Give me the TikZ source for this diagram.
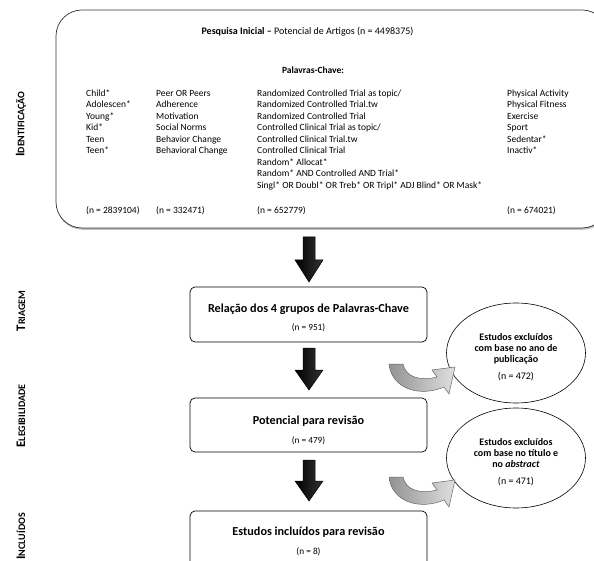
\documentclass[tikz,border=0pt]{standalone}
\usepackage{fontspec}
\setmainfont{Carlito}
\usetikzlibrary{shapes.geometric,shadows}
\begin{document}
\begin{tikzpicture}[x=1pt,y=-1pt,
  lbl/.style={rotate=90, inner sep=0},
  row/.style={inner sep=0, anchor=base west, font=\fontsize{9.5}{11.5}\selectfont},
  smallbox/.style={draw=black, rounded corners=5pt, line width=0.7pt, minimum width=237pt, fill=white},
  boxtitle/.style={inner sep=0, font=\bfseries\fontsize{12.2}{14}\selectfont},
  boxn/.style={inner sep=0, font=\fontsize{9.3}{11}\selectfont},
  bigarrow/.style={draw=black, line width=0.5pt, left color=black, middle color=black!55, right color=black!80},
  curvarrow/.style={draw=black!60, line width=0.5pt, left color=gray!85, right color=gray!25},
  excl/.style={draw=black, ellipse, line width=0.6pt, minimum width=139pt, minimum height=100pt, inner sep=0},
  excltext/.style={inner sep=0, align=center, font=\fontsize{10}{11}\selectfont}]
\useasboundingbox (0,0) rectangle (594,561);
\begin{scope}
\clip (0,0) rectangle (594,561);
% main search box
\node[draw=black!80, fill=white, line width=0.7pt, rounded corners=26pt, minimum width=552pt, minimum height=218pt,
  drop shadow={shadow xshift=0.6pt, shadow yshift=-1.8pt, fill=black!50}] (search) at (332,119) {};
\node[inner sep=0, font=\fontsize{10}{12}\selectfont] (title) at (307.5,32) {\textbf{Pesquisa Inicial –} Potencial de Artigos (n = 4498375)};
\node[inner sep=0, font=\bfseries\fontsize{9.5}{11.5}\selectfont] (kw) at (313,70) {Palavras-Chave:};
\foreach \t [count=\i] in {Child*, Adolescen*, Young*, Kid*, Teen, Teen*}
  \node[row] (ca\i) at (86,{96.5+11.5*(\i-1)}) {\t};
\foreach \t [count=\i] in {Peer OR Peers, Adherence, Motivation, Social Norms, Behavior Change, Behavioral Change}
  \node[row] (cb\i) at (156,{96.5+11.5*(\i-1)}) {\t};
\foreach \t [count=\i] in {Randomized Controlled Trial as topic/, Randomized Controlled Trial.tw, Randomized Controlled Trial,
  Controlled Clinical Trial as topic/, Controlled Clinical Trial.tw, Controlled Clinical Trial, Random* Allocat*,
  Random* AND Controlled AND Trial*, Singl* OR Doubl* OR Treb* OR Tripl* ADJ Blind* OR Mask*}
  \node[row] (cc\i) at (257,{96.5+11.5*(\i-1)}) {\t};
\foreach \t [count=\i] in {Physical Activity, Physical Fitness, Exercise, Sport, Sedentar*, Inactiv*}
  \node[row] (cd\i) at (507,{96.5+11.5*(\i-1)}) {\t};
\node[row] (na) at (86,213.5) {(n = 2839104)};
\node[row] (nb) at (156,213.5) {(n = 332471)};
\node[row] (nc) at (257,213.5) {(n = 652779)};
\node[row] (nd) at (507,213.5) {(n = 674021)};
% stage labels
\node[lbl] (l1) at (21,124) {\bfseries\fontsize{13}{13}\selectfont I\fontsize{10}{10}\selectfont DENTIFICAÇÃO};
\node[lbl] (l2) at (21,311) {\bfseries\fontsize{13}{13}\selectfont T\fontsize{10}{10}\selectfont RIAGEM};
\node[lbl] (l3) at (21,416) {\bfseries\fontsize{13}{13}\selectfont E\fontsize{10}{10}\selectfont LEGIBILIDADE};
\node[lbl, anchor=east] (l4) at (21,513) {\bfseries\fontsize{13}{13}\selectfont I\fontsize{10}{10}\selectfont NCLUÍDOS};
% boxes
\node[smallbox, minimum height=55pt] (b2) at (308.5,314.5) {};
\node[boxtitle] (b2t) at (308.5,309) {Relação dos 4 grupos de Palavras-Chave};
\node[boxn] (b2n) at (308.5,328) {(n = 951)};
\node[smallbox, minimum height=54pt] (b3) at (308.5,425) {};
\node[boxtitle] (b3t) at (308.5,421) {Potencial para revisão};
\node[boxn] (b3n) at (308.5,441) {(n = 479)};
\node[smallbox, minimum height=55pt] (b4) at (308.5,538.5) {};
\node[boxtitle] (b4t) at (308.5,532) {Estudos incluídos para revisão};
\node[boxn] (b4n) at (308.5,552) {(n = 8)};
% ellipses
\node[excl] (e1) at (516,353) {};
\node[excltext] (e1t) at (516,357) {\textbf{Estudos excluídos}\\\textbf{com base no ano de}\\\textbf{publicação}\\[6pt](n = 472)};
\node[excl] (e2) at (516,458) {};
\node[excltext] (e2t) at (516,462) {\textbf{Estudos excluídos}\\\textbf{com base no título e}\\\textbf{no \textit{abstract}}\\[6pt](n = 471)};
% big down arrows
\foreach \top/\hb/\tip in {237/260/282, 348/370/390, 460/481/501}
  \shade[bigarrow] (303,\top) -- (315,\top) -- (315,\hb) -- (323,\hb) -- (309,\tip) -- (295,\hb) -- (303,\hb) -- cycle;
% curved arrows
\foreach \ox/\oy in {389/364, 389/477}
  \shade[curvarrow, shift={(\ox,\oy)}] (0,0) -- (14,0) .. controls (17,14) and (32,17) .. (48,13) -- (43,6) -- (66,3)
    -- (60,30) -- (55,23) .. controls (32,33) and (3,26) .. (0,0) -- cycle;
\end{scope}
\end{tikzpicture}
\end{document}
